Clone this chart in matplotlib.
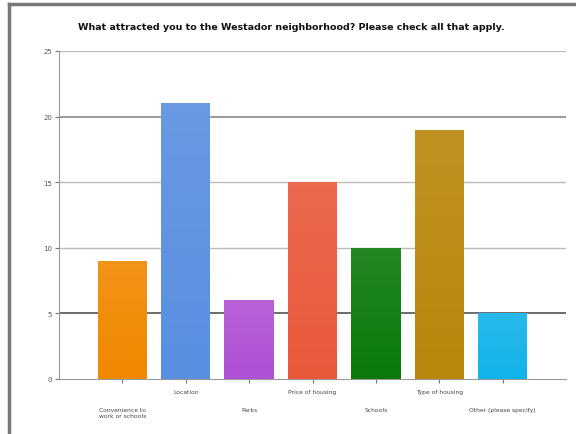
import numpy as np
import matplotlib
matplotlib.use("Agg")
import matplotlib.pyplot as plt
from matplotlib.lines import Line2D

categories = ["Convenience to\nwork or schools", "Location", "Parks", "Price of housing",
              "Schools", "Type of housing", "Other (please specify)"]
counts = [9, 21, 6, 15, 10, 19, 5]
bar_colors = ["#F08800", "#5A8EE0", "#B050D4", "#EA583A", "#0B7A0B", "#B8860A", "#12B2EA"]
y_ticks = [0, 5, 10, 15, 20, 25]

fig = plt.figure(figsize=(5.76, 4.35), dpi=100)
ax = fig.add_axes([59 / 576, 1 - 380 / 435, (566 - 59) / 576, (380 - 52) / 435])

x = np.arange(len(categories))
bars = ax.bar(x, counts, width=0.78, color=bar_colors, zorder=3)

# subtle top-to-bottom gradient on each bar
for b in bars:
    x0, y0 = b.get_x(), b.get_y()
    w, h = b.get_width(), b.get_height()
    grad = np.linspace(0, 1, 64).reshape(-1, 1)
    img = ax.imshow(grad, extent=[x0, x0 + w, y0, y0 + h], aspect="auto",
                    cmap=matplotlib.colors.LinearSegmentedColormap.from_list(
                        "g", [(1, 1, 1, 0.0), (1, 1, 1, 0.1)]),
                    origin="lower", zorder=4)
    img.set_clip_path(b)

ax.set_xlim(-1, 7)
ax.set_ylim(0, 25)
ax.set_yticks(y_ticks)
ax.set_yticklabels([str(v) for v in y_ticks], fontsize=5, color="#555555")

for v in y_ticks[1:]:
    if v == 5:
        ax.axhline(v, color="#444444", lw=1.1, zorder=1)
    elif v == 20:
        ax.axhline(v, color="#888888", lw=1.2, zorder=1)
    else:
        ax.axhline(v, color="#bbbbbb", lw=1.0, zorder=1)

ax.set_xticks(x)
ax.set_xticklabels([])
for i, lab in enumerate(categories):
    yoff = -0.03 if i % 2 == 1 else -0.085
    ax.text(i, yoff, lab, transform=ax.get_xaxis_transform(), ha="center", va="top",
            fontsize=4.3, color="#444444", linespacing=1.2)

for s in ["top", "right"]:
    ax.spines[s].set_visible(False)
ax.spines["left"].set_color("#999999")
ax.spines["bottom"].set_color("#999999")
ax.tick_params(axis="both", length=3, width=0.8, color="#777777", pad=2)

fig.text(291 / 576, 1 - 27 / 435, "What attracted you to the Westador neighborhood? Please check all that apply.",
         ha="center", va="center", fontsize=6.8, fontweight="bold", color="#111111")

# outer frame (left and top edges)
fig.add_artist(Line2D([9 / 576, 9 / 576], [0, 1 - 5 / 435], transform=fig.transFigure,
                      color="#777777", lw=2.5))
fig.add_artist(Line2D([9 / 576, 1], [1 - 5 / 435, 1 - 5 / 435], transform=fig.transFigure,
                      color="#777777", lw=2.5))

fig.savefig("out.png", dpi=100)
